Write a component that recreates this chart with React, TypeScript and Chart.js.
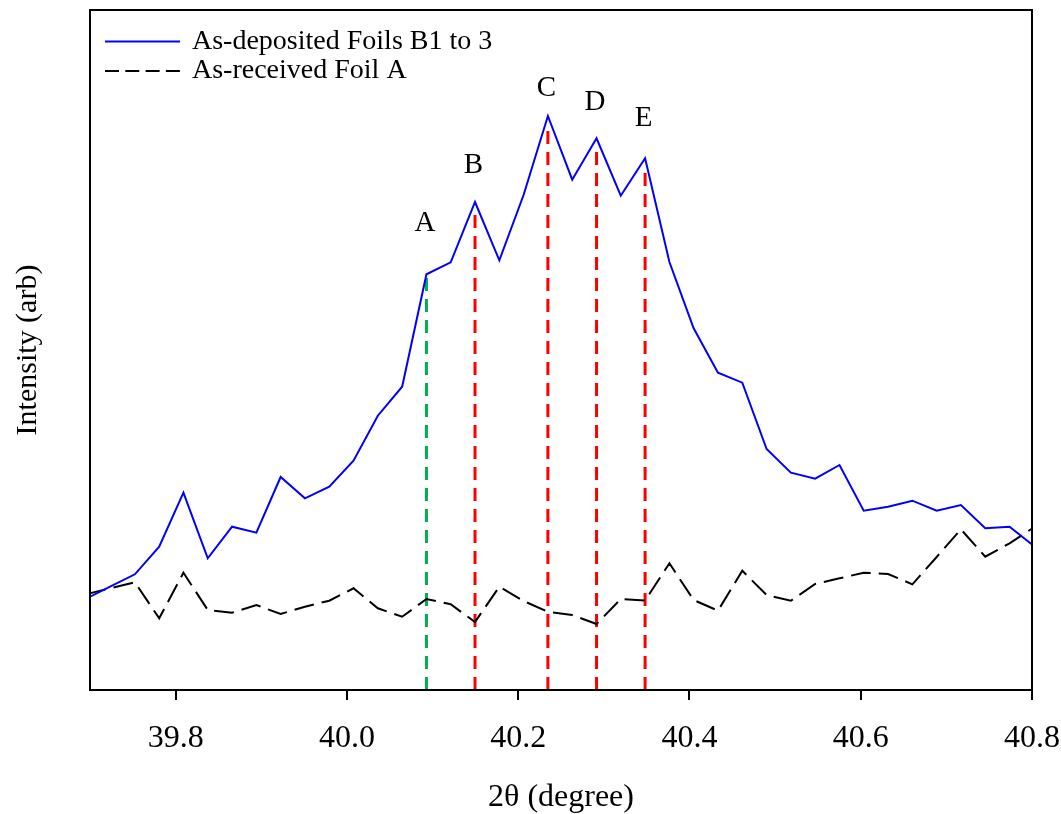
import { useEffect, useRef } from "react";
import { Chart, registerables } from "chart.js";

Chart.register(...registerables);

// 2θ positions (degree)
const twoTheta = [
  39.6957, 39.724, 39.7524, 39.7808, 39.8091, 39.8375, 39.8659, 39.8943, 39.9226, 39.951,
  39.9794, 40.0077, 40.0361, 40.0645, 40.0929, 40.1212, 40.1496, 40.178, 40.2063, 40.2347,
  40.2631, 40.2915, 40.3198, 40.3482, 40.3766, 40.4049, 40.4333, 40.4617, 40.4901, 40.5184,
  40.5468, 40.5752, 40.6035, 40.6319, 40.6603, 40.6887, 40.717, 40.7454, 40.7738, 40.8021,
];

// As-deposited Foils B1 to 3 (arb)
const depositedB = [
  91.4, 103.6, 115.7, 143.3, 197.3, 131.7, 163.3, 157.3, 213, 191.7,
  203.3, 229.3, 274.3, 303.3, 415.7, 427.7, 488, 429.7, 495, 574,
  510.3, 551.7, 494.3, 531.7, 428, 361.7, 317.3, 307.3, 241, 217.3,
  211.3, 225, 179.3, 183.3, 189.3, 179.3, 185, 161.7, 163.3, 144,
];

// As-received Foil A (arb)
const receivedA = [
  95.8, 101.8, 107.7, 71.7, 117.3, 80, 77.3, 85, 76, 83.3,
  89.3, 101.7, 81.7, 73.3, 91, 85.7, 68, 103.3, 89, 78.3,
  75, 66, 91, 89.5, 126.7, 90, 79.3, 119.3, 95, 89.3,
  106, 111.7, 117.3, 116, 105.7, 133, 160.7, 133.3, 146.7, 162.6,
];

const peakLabels = ["A", "B", "C", "D", "E"];
const peakPositions = [40.0929, 40.1496, 40.2347, 40.2915, 40.3482];
const peakLineTops = [413.3, 478.3, 563.3, 542, 525];
const peakLabelHeights = [467, 525, 602, 588, 572];
const peakColors = ["#00B050", "#FF0000", "#FF0000", "#FF0000", "#FF0000"];

const xTicks = [39.8, 40.0, 40.2, 40.4, 40.6, 40.8];

const SERIF = "'Liberation Serif', 'Times New Roman', serif";

export default function App() {
  const canvasRef = useRef<HTMLCanvasElement | null>(null);

  useEffect(() => {
    document.body.style.margin = "0";
    const canvas = canvasRef.current;
    if (!canvas) return;

    const frameAndText = {
      id: "frameAndText",
      afterDatasetsDraw(chart: any) {
        const { ctx, chartArea, scales } = chart;
        const xs = scales.x;
        const ys = scales.y;
        ctx.save();
        // frame
        ctx.strokeStyle = "#000";
        ctx.lineWidth = 2;
        ctx.setLineDash([]);
        ctx.strokeRect(chartArea.left, chartArea.top, chartArea.right - chartArea.left, chartArea.bottom - chartArea.top);

        // peak letters
        ctx.fillStyle = "#000";
        ctx.font = `29px ${SERIF}`;
        ctx.textAlign = "center";
        ctx.textBaseline = "middle";
        peakLabels.forEach((lab, i) => {
          ctx.fillText(lab, xs.getPixelForValue(peakPositions[i]) - 1.5, ys.getPixelForValue(peakLabelHeights[i]));
        });

        // legend
        const ds = chart.data.datasets;
        const rows = [
          { y: 41.5, ds: ds[0], dash: [] as number[] },
          { y: 71, ds: ds[1], dash: [14, 6.3] },
        ];
        ctx.font = `28px ${SERIF}`;
        ctx.textAlign = "left";
        rows.forEach((r) => {
          ctx.beginPath();
          ctx.strokeStyle = r.ds.borderColor;
          ctx.lineWidth = 2;
          ctx.setLineDash(r.dash);
          ctx.moveTo(105, r.y);
          ctx.lineTo(180, r.y);
          ctx.stroke();
          ctx.setLineDash([]);
          ctx.fillStyle = "#000";
          ctx.fillText(r.ds.label, 192, r.y);
        });
        ctx.restore();
      },
    };

    const peakSets = peakPositions.map((p, i) => ({
      label: "peak " + peakLabels[i],
      data: [
        { x: p, y: 0 },
        { x: p, y: peakLineTops[i] },
      ],
      borderColor: peakColors[i],
      borderWidth: 3,
      borderDash: [13, 8],
      pointRadius: 0,
      fill: false,
    }));

    const chart = new Chart(canvas, {
      type: "line",
      data: {
        datasets: [
          {
            label: "As-deposited Foils B1 to 3",
            data: twoTheta.map((x, i) => ({ x, y: depositedB[i] })),
            borderColor: "#0000FF",
            borderWidth: 2,
            pointRadius: 0,
            tension: 0,
            fill: false,
          },
          {
            label: "As-received Foil A",
            data: twoTheta.map((x, i) => ({ x, y: receivedA[i] })),
            borderColor: "#000000",
            borderWidth: 2,
            borderDash: [20, 8],
            pointRadius: 0,
            tension: 0,
            fill: false,
          },
          ...peakSets,
        ] as any,
      },
      options: {
        responsive: false,
        animation: false,
        layout: { padding: { top: 10, right: 29, bottom: 0, left: 0 } },
        plugins: {
          legend: { display: false },
          tooltip: { enabled: false },
        },
        scales: {
          x: {
            type: "linear",
            min: 39.7,
            max: 40.8,
            afterBuildTicks: (scale: any) => {
              scale.ticks = xTicks.map((v) => ({ value: v }));
            },
            afterFit: (scale: any) => {
              scale.height = 124;
              scale.paddingRight = 0;
              scale.paddingLeft = 0;
            },
            border: { display: false },
            grid: {
              drawOnChartArea: false,
              drawTicks: true,
              tickLength: 10,
              color: "#000",
              lineWidth: 2,
            },
            ticks: {
              autoSkip: false,
              maxRotation: 0,
              padding: 19,
              color: "#000",
              font: { family: SERIF, size: 32 },
              callback: (v: any) => Number(v).toFixed(1),
            },
            title: {
              display: true,
              text: "2θ (degree)",
              color: "#000",
              font: { family: SERIF, size: 32, lineHeight: 1 },
              padding: { top: 0, bottom: 0 },
            },
          },
          y: {
            type: "linear",
            min: 0,
            max: 680,
            afterFit: (scale: any) => {
              scale.width = 90;
            },
            border: { display: false },
            grid: { display: false },
            ticks: { display: false },
            title: {
              display: true,
              text: "Intensity (arb)",
              color: "#000",
              font: { family: SERIF, size: 30 },
              padding: { top: 10, bottom: 0 },
            },
          },
        },
      } as any,
      plugins: [frameAndText],
    });

    return () => chart.destroy();
  }, []);

  return <canvas ref={canvasRef} width={1061} height={814} style={{ display: "block" }} />;
}
